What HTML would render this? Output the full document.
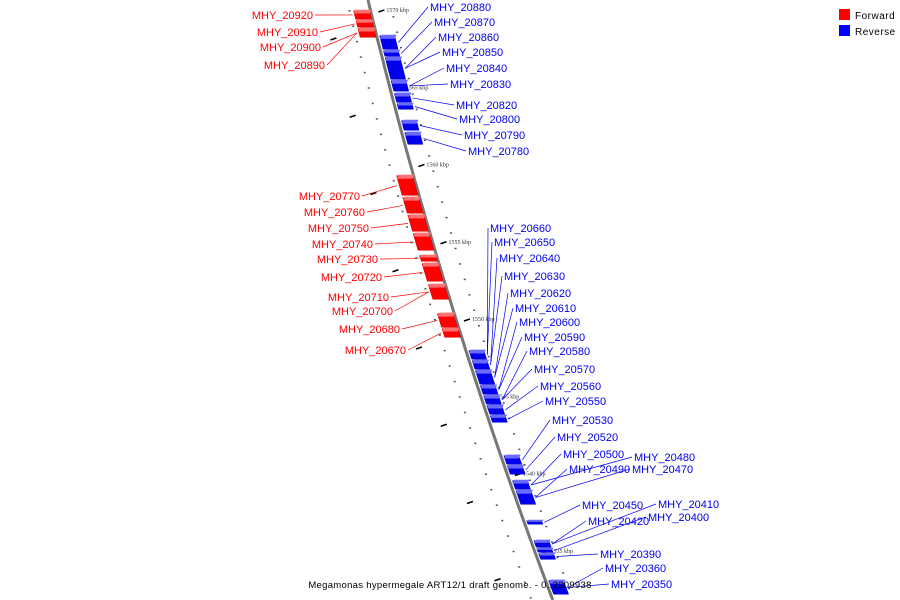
<!DOCTYPE html>
<html><head><meta charset="utf-8"><style>
html,body{margin:0;padding:0;background:#fff;}
svg{display:block;font-family:"Liberation Sans",sans-serif;}
</style></head><body>
<svg id="map" width="900" height="600" viewBox="0 0 900 600">
<g id="ticks"></g>
<path id="backbone" fill="none" stroke="#777" stroke-width="3"/>
<g id="genes"></g>
<g id="labels"></g>
<g>
<rect x="839" y="9" width="11" height="11" fill="#f00"/>
<text x="855" y="19" font-size="10" letter-spacing="0.5">Forward</text>
<rect x="839" y="25" width="11" height="11" fill="#00f"/>
<text x="855" y="35" font-size="10" letter-spacing="0.5">Reverse</text>
</g>
<text x="450" y="588" font-size="9.5" text-anchor="middle" letter-spacing="0.3">Megamonas hypermegale ART12/1 draft genome. - 0..2209938</text>
</svg>
<script>
const geneStart=[1570.0,1569.36,1568.84, 1568.38,1567.41,1566.96,1565.47,1564.64,1563.98,1562.88,1562.11,
 1559.32,1557.90,1556.75,1555.57,1554.15,1553.63,1552.27,1550.39,1549.42,
 1548.0,1547.35,1546.70,1545.73,1545.08,1544.44,1543.79,1541.20,1540.55,1539.58,1538.93,1536.99,1535.70,1535.18,1534.86,1533.11];
const geneEnd=[1569.36,1568.84,1568.19, 1567.41,1566.96,1565.47,1564.70,1563.98,1563.53,1562.17,1561.26,
 1557.96,1556.80,1555.63,1554.40,1553.69,1552.40,1551.23,1549.42,1548.77,
 1547.35,1546.70,1545.73,1545.08,1544.44,1543.79,1543.27,1540.55,1539.91,1538.93,1537.96,1536.67,1535.18,1534.86,1534.40,1532.14];
const geneStrand=['+','+','+','-','-','-','-','-','-','-','-','+','+','+','+','+','+','+','+','+',
 '-','-','-','-','-','-','-','-','-','-','-','-','-','-','-','-'];
const tickKbp=[1570,1565,1560,1555,1550,1545,1540,1535];
const labelNames=['MHY_20920','MHY_20910','MHY_20900','MHY_20890',
 'MHY_20880','MHY_20870','MHY_20860','MHY_20850','MHY_20840','MHY_20830','MHY_20820','MHY_20800','MHY_20790','MHY_20780',
 'MHY_20770','MHY_20760','MHY_20750','MHY_20740','MHY_20730','MHY_20720','MHY_20710','MHY_20700','MHY_20680','MHY_20670',
 'MHY_20660','MHY_20650','MHY_20640','MHY_20630','MHY_20620','MHY_20610','MHY_20600','MHY_20590','MHY_20580','MHY_20570','MHY_20560','MHY_20550',
 'MHY_20530','MHY_20520','MHY_20500','MHY_20490','MHY_20480','MHY_20470','MHY_20450','MHY_20420','MHY_20410','MHY_20400','MHY_20390','MHY_20360','MHY_20350'];
const labelGene=[0,1,2,2, 3,4,5,5,6,6,7,8,9,10, 11,12,13,14,15,16,17,17,18,19,
 20,20,21,21,22,22,23,23,24,24,25,26,27,28,29,30,29,30,31,32,32,33,34,35,35];
// label layout (text anchor points)
const labelX=[313,318,321,325, 430,434,438,442,446,450,456,459,464,468, 360,365,369,373,378,382,389,393,400,406,
 490,494,499,504,510,515,519,524,529,534,540,545,552,557,563,569,634,632,582,588,658,648,600,605,611];
const labelY=[15,32,47,65, 7,22,37,52,68,84,105,119,135,151, 196,212,228,244,259,277,297,311,329,350,
 228,242,258,276,293,308,322,337,351,369,386,401,420,437,454,469,457,469,505,521,504,517,554,568,584];

const NS='http://www.w3.org/2000/svg';
function yOf(k){return 10+(1570-k)*15.45;}
function xOf(y){return 368+0.239*y+1.15e-4*y*y;}
function mk(t,a,p){const e=document.createElementNS(NS,t);for(const k in a)e.setAttribute(k,a[k]);p.appendChild(e);return e;}

let d='';for(let y=0;y<=600;y+=10)d+=(y?'L':'M')+xOf(y).toFixed(1)+' '+y+' ';
document.getElementById('backbone').setAttribute('d',d);

const tg=document.getElementById('ticks');
for(let k=1571;k>=1531;k--){
  const y=yOf(k);if(y<0||y>600)continue;
  const dot=mk('rect',{x:xOf(y)-22,y:y,width:2,height:1.5,fill:'#555'},tg);
  
  
  const dot2=mk('rect',{x:xOf(y)+22,y:y+6,width:2,height:1.5,fill:'#555'},tg);
  
  
}
tickKbp.forEach(k=>{
  const y=yOf(k),x=xOf(y);
  const l=mk('line',{x1:x+8,y1:y+2,x2:x+14,y2:y,stroke:'#000','stroke-width':1.5},tg);
  
  
  const l2=mk('line',{x1:x-40,y1:y+30,x2:x-34,y2:y+28,stroke:'#000','stroke-width':1.5},tg);
  
  
  const t=mk('text',{x:x+16,y:y+2,'font-size':6,'font-family':'Liberation Serif, serif',fill:'#333'},tg);
  t.textContent=k+' kbp';
  
  
});

const gg=document.getElementById('genes');
const gx=[];
geneStart.forEach((s,i)=>{
  const y1=yOf(s)+0.7,y2=yOf(geneEnd[i])-0.7;
  const fwd=geneStrand[i]==='+';
  const o1=fwd?-17:3,o2=fwd?-1:18;
  const pts=[[xOf(y1)+o1,y1],[xOf(y1)+o2,y1],[xOf(y2)+o2,y2],[xOf(y2)+o1,y2]];
  const col=fwd?'#f00':'#0000ee';
  const g=mk('polygon',{points:pts.map(p=>p.join(',')).join(' '),fill:col,stroke:fwd?'#c00':'#00b','stroke-width':0.5},gg);
  
  
  const h=Math.min(3,(y2-y1)/3);
  const top=mk('polygon',{points:[[xOf(y1)+o1+2,y1-1],[xOf(y1)+o2+2,y1-1],[xOf(y1)+o2,y1+h],[xOf(y1)+o1,y1+h]].map(p=>p.join(',')).join(' '),fill:fwd?'#ff7070':'#6a6aff'},gg);
  
  
  const ym=(y1+y2)/2;
  gx.push([fwd?xOf(ym)+o1-2:xOf(ym)+o2+2,ym,fwd]);
});

const lg=document.getElementById('labels');
labelNames.forEach((n,i)=>{
  const g=gx[labelGene[i]];const fwd=g[2];
  const col=fwd?'#f00':'#0000ee';
  const lx=labelX[i],ly=labelY[i];
  const ln=mk('line',{x1:fwd?lx+2:lx-2,y1:ly,x2:g[0],y2:g[1],stroke:col,'stroke-width':0.7},lg);
  
  
  const t=mk('text',{x:lx,y:ly+4,'font-size':11,fill:col,'text-anchor':fwd?'end':'start'},lg);
  t.textContent=n;
  
  
});
</script>
</body></html>
